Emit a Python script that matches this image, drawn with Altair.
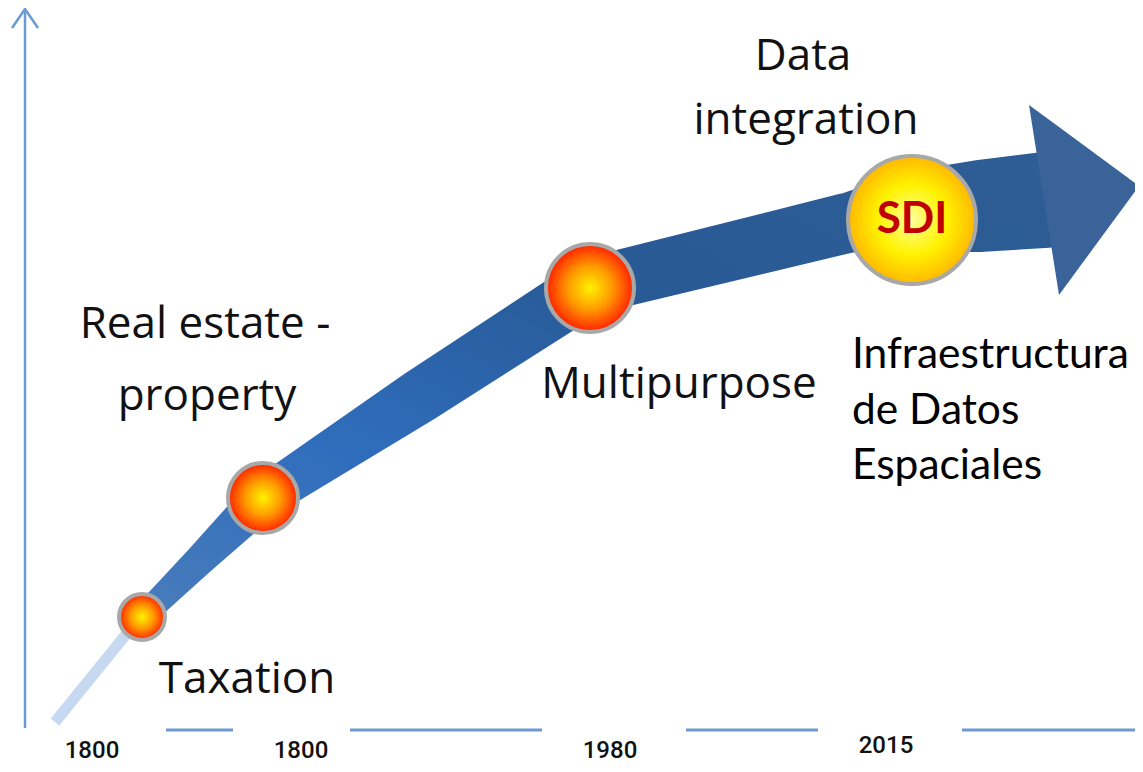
import altair as alt
import pandas as pd

# ---------------- data ----------------
# main band centreline (page px) and its width
band_x = [142, 200, 263, 420, 590, 847, 912, 980, 1045]
band_y = [617, 560, 498, 396, 286, 223, 212, 206, 200]
band_w = [24, 31, 42, 54, 57, 60, 82, 92, 96]

# arrow head (triangle as area: x, top, bottom)
head_x = [1029, 1059, 1139]
head_top = [105, 127, 186]
head_bot = [105, 295, 186]

# milestones (outer radius)
orange_x = [142, 263, 590]
orange_y = [617, 498, 288]
orange_r = [25, 37, 46]
sdi_x = [912]
sdi_y = [220]
sdi_r = [66]

# callout texts
lbl_text = ["Data", "integration", "Real estate -", "property", "Multipurpose", "Taxation"]
lbl_x = [803, 806, 205, 207, 679, 247]
lbl_y = [70, 134, 338, 410, 398, 693]

info_text = ["Infraestructura", "de Datos", "Espaciales"]
info_x = [852, 852, 852]
info_y = [368, 424, 479]

year_text = ["1800", "1800", "1980", "2015"]
year_x = [92, 301, 610, 886]
year_y = [758, 758, 758, 753]

seg_x1 = [166, 350, 686, 962]
seg_x2 = [233, 542, 818, 1143]
seg_y = [730, 730, 730, 730]

# ---------------- chart ----------------
W, H = 1127, 756
xs = alt.Scale(domain=[8, 8 + W], nice=False, zero=False)
ys = alt.Scale(domain=[8, 8 + H], nice=False, zero=False, reverse=True)


def X(f="x"):
    return alt.X(f"{f}:Q", scale=xs, axis=None)


def Y(f="y"):
    return alt.Y(f"{f}:Q", scale=ys, axis=None)


# vertical axis
vaxis = alt.Chart(pd.DataFrame({"x": [25], "y": [728], "y2": [10]})).mark_rule(
    color="#6b9ad6", strokeWidth=2.5
).encode(x=X(), y=Y(), y2="y2:Q")
chev = alt.Chart(pd.DataFrame({"x": [12, 25, 38], "y": [28, 9, 28], "o": [0, 1, 2]})).mark_line(
    color="#6b9ad6", strokeWidth=2.5
).encode(x=X(), y=Y(), order="o:Q")

# bottom dashes
segs = alt.Chart(pd.DataFrame({"x": seg_x1, "x2": seg_x2, "y": seg_y})).mark_rule(
    color="#6e9ad2", strokeWidth=3
).encode(x=X(), x2="x2:Q", y=Y())

# faint lead-in
lead = alt.Chart(pd.DataFrame({"x": [55], "y": [722], "x2": [128], "y2": [632]})).mark_rule(
    color="#c6d9f1", strokeWidth=11
).encode(x=X(), y=Y(), x2="x2:Q", y2="y2:Q")

band_grad = {
    "gradient": "linear", "x1": 0, "y1": 1, "x2": 1, "y2": 0,
    "stops": [
        {"offset": 0, "color": "#4a7dbb"},
        {"offset": 0.3, "color": "#2f6dbc"},
        {"offset": 0.6, "color": "#285a96"},
        {"offset": 1, "color": "#2f5d94"},
    ],
}
band = alt.Chart(pd.DataFrame({"x": band_x, "y": band_y, "w": band_w, "o": list(range(len(band_x)))})).mark_trail(
    color=band_grad
).encode(x=X(), y=Y(), size=alt.Size("w:Q", scale=None, legend=None), order="o:Q")

head = alt.Chart(pd.DataFrame({"x": head_x, "y": head_top, "y2": head_bot})).mark_area(
    color="#3a6499"
).encode(x=X(), y=Y(), y2="y2:Q")

orange_grad = {
    "gradient": "radial", "x1": 0.5, "y1": 0.5, "r1": 0, "x2": 0.5, "y2": 0.5, "r2": 0.5,
    "stops": [
        {"offset": 0, "color": "#fff200"},
        {"offset": 0.5, "color": "#ff9a00"},
        {"offset": 1, "color": "#ff2000"},
    ],
}
sdi_grad = {
    "gradient": "radial", "x1": 0.5, "y1": 0.5, "r1": 0, "x2": 0.5, "y2": 0.5, "r2": 0.5,
    "stops": [
        {"offset": 0, "color": "#ffff9a"},
        {"offset": 0.55, "color": "#fff200"},
        {"offset": 1, "color": "#ffb800"},
    ],
}
SW = 4
orange = alt.Chart(pd.DataFrame({"x": orange_x, "y": orange_y, "s": [(2 * r - SW) ** 2 for r in orange_r]})).mark_circle(
    fill=orange_grad, opacity=1, stroke="#a8a8a8", strokeWidth=SW
).encode(x=X(), y=Y(), size=alt.Size("s:Q", scale=None, legend=None))
sdi = alt.Chart(pd.DataFrame({"x": sdi_x, "y": sdi_y, "s": [(2 * r - SW) ** 2 for r in sdi_r]})).mark_circle(
    fill=sdi_grad, opacity=1, stroke="#a8a8a8", strokeWidth=SW
).encode(x=X(), y=Y(), size=alt.Size("s:Q", scale=None, legend=None))

sdi_txt = alt.Chart(pd.DataFrame({"x": sdi_x, "y": [233], "t": ["SDI"]})).mark_text(
    font="Lato", fontSize=44, fontWeight="bold", color="#c00000", baseline="alphabetic", align="center"
).encode(x=X(), y=Y(), text="t:N")

labels = alt.Chart(pd.DataFrame({"x": lbl_x, "y": lbl_y, "t": lbl_text})).mark_text(
    font="Open Sans", fontSize=44, color="#111111", baseline="alphabetic", align="center"
).encode(x=X(), y=Y(), text="t:N")

info = alt.Chart(pd.DataFrame({"x": info_x, "y": info_y, "t": info_text})).mark_text(
    font="Lato", fontSize=42.5, color="#000000", baseline="alphabetic", align="left"
).encode(x=X(), y=Y(), text="t:N")

years = alt.Chart(pd.DataFrame({"x": year_x, "y": year_y, "t": year_text})).mark_text(
    font="Roboto", fontSize=24, fontWeight=500, color="#111111", baseline="alphabetic", align="center"
).encode(x=X(), y=Y(), text="t:N")

chart = alt.layer(
    vaxis, chev, segs, lead, band, head, orange, sdi, sdi_txt, labels, info, years
).properties(width=W, height=H, padding=0, autosize="none").configure_view(stroke=None)

chart.save("out.html", embed_options={"renderer": "svg", "actions": False})
